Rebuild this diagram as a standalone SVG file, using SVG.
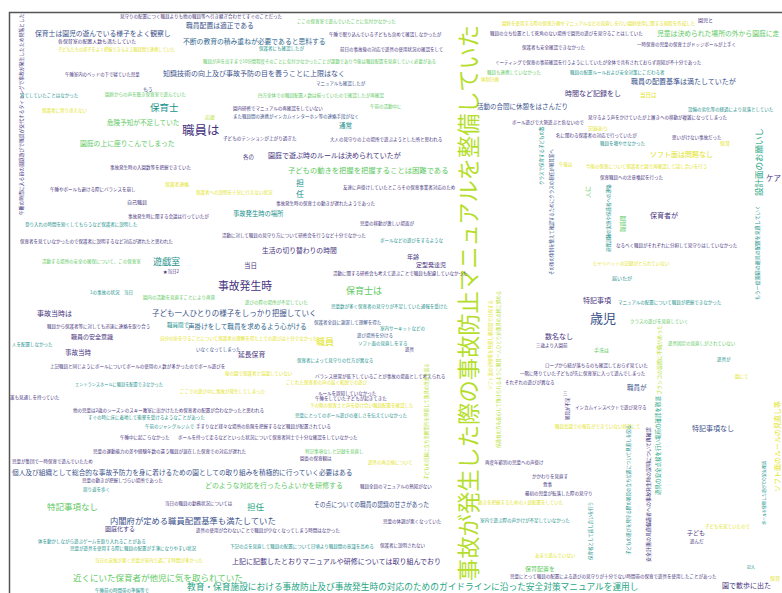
<svg xmlns="http://www.w3.org/2000/svg" width="782" height="593" viewBox="0 0 782 593">
<style>
text{font-family:"Noto Sans CJK JP","Noto Sans CJK SC",sans-serif;font-size:4.5px}
.p{fill:#46337e}.d{fill:#3b528b}.b{fill:#31688e}.t{fill:#21918c}.g{fill:#27a583}.l{fill:#5ec962}.y{fill:#b5de2b}.Y{fill:#dfe318}
</style>
<rect width="782" height="593" fill="#fff"/>
<path d="M9.5,593V12.5H782" fill="none" stroke="#555" stroke-width="1.5"/>
<g id="big">
<text class="y" style="font-size:22.3px" transform="translate(477,581) rotate(-90)">事故が発生した際の事故防止マニュアルを整備していた</text>
</g>
<g id="top">
<text class="p" x="120" y="18">見守りの配置につく職員よりも他の職員等へ引き継ぎ合わせてすぐのことだった</text>
<text class="d" x="35" y="36" style="font-size:6.8px">保育士は園児の遊んでいる様子をよく観察し</text>
<text class="d" x="186" y="28" style="font-size:6.8px">職員配置は適正である</text>
<text class="p" x="58" y="43" style="font-size:4.9px">各保育室の配置人数も満たしていた</text>
<text class="Y" x="58" y="51" style="font-size:4.2px">子どもたちの様子をよく把握できるよう職員間で連携していた</text>
<text class="b" x="183" y="44" style="font-size:6.8px">不断の教育の積み重ねが必要であると思料する</text>
<text class="l" x="297" y="23">ここの保育室で遊んでいたことに気付かなかった</text>
<text class="p" x="329" y="36">午睡で眠り込んでいる子どもも含めて確認しなかったが</text>
<text class="t" x="259" y="50">保護者にも確認したが</text>
<text class="p" x="340" y="51">前日の事故後の対応で遊具の使用状況の確認をして</text>
<text class="l" x="203" y="63" style="font-size:4.4px">職員が声を出すまで10分間程度そのことに気付かなかったことが課題であり今後は職員配置を見直していく必要がある</text>
<text class="d" x="163" y="76" style="font-size:7px">知識技術の向上及び事故予防の目を養うことに上限はなく</text>
<text class="p" x="65" y="76" style="font-size:4.4px">午睡室内のベッドの下で寝ていた児童</text>
<text class="d" x="316" y="85">マニュアルも確認したが</text>
<text class="d" x="143" y="91" style="font-size:5px">もう</text>
<text class="l" x="105" y="96">園庭からの声を聴き保育室で遊んでいた</text>
<text class="t" x="20" y="97">育てしていたことはなかった</text>
<text class="l" x="258" y="97">四方全体での職員配置人数は揃っていたので確認したが再確認</text>
<text class="Y" x="42" y="112">保護者に寄り添えない</text>
<text class="t" x="150" y="111" style="font-size:9.5px">保育士</text>
<text class="l" x="107" y="125" style="font-size:6.6px">危険予知が不足していた</text>
<text class="p" x="182" y="135" style="font-size:12.5px">職員は</text>
<text class="y" x="205" y="119" style="font-size:5px">応援</text>
<text class="p" x="233" y="110">園内研修でマニュアルの再確認をしていない</text>
<text class="d" x="233" y="118">また職員間の連携がインカムインターホン等の連絡手段がなく</text>
<text class="t" x="339" y="128" style="font-size:6.5px">通常</text>
<text class="l" x="370" y="108">午前の活動中に</text>
<text class="p" x="223" y="140" style="font-size:4.6px">子どものテンションが上がり過ぎた</text>
<text class="p" x="330" y="141">大人の見守りの上の場所で遊ぶようとした所と思われる</text>
<text class="l" x="80" y="146" style="font-size:6.8px">園庭の上に座りこんでしまった</text>
<text class="p" x="243" y="159" style="font-size:5.5px">各の</text>
<text class="p" x="268" y="158" style="font-size:7px">園庭で遊ぶ時のルールは決められていたが</text>
<text class="l" x="288" y="173" style="font-size:7.3px">子どもの動きを把握を把握することは困難である</text>
<text class="p" x="110" y="169">事故発生時の入園数等を把握できていた</text>
<text class="Y" x="165" y="186" style="font-size:4.8px">保護者連絡</text>
<text class="p" x="50" y="191">午睡やボールも避ける際にバランスを崩し</text>
<text class="t" x="296" y="186" style="font-size:8px">担</text>
<text class="t" x="296" y="197" style="font-size:8px">任</text>
<text class="p" x="343" y="189">友達に声掛けしていたところその保育事業者対応のため</text>
<text class="Y" x="196" y="194">保護者への説明を十分に行えない状況</text>
<text class="p" style="font-size:4.8px" transform="translate(23,215) rotate(-90)">午睡の時間に入る前の園庭遊びで職員が交代するタイミングで事故が発生したため見落とした</text>
<text class="Y" x="502" y="25">園庭を使用する際の保育計画やマニュアルなどの見直しを行い園庭使用に関する規程を作成した</text>
<text class="p" x="490" y="35">職員の立ち位置として死角のない場所で園児の遊びを見守ることはしていた</text>
<text class="p" x="522" y="49">保護者も安全確認できなかった</text>
<text class="p" x="495" y="64">ミーティングで保育の事前確認を行うようにしていたが全体で共有されておらず周知が不十分であった</text>
<text class="l" x="487" y="74">職員も連携していなかった</text>
<text class="Y" x="481" y="81">体制計画</text>
<text class="t" x="570" y="74">職員の配置ルールおよび安全対策にこだわる者</text>
<text class="p" x="565" y="96" style="font-size:7px">時間など記録をし</text>
<text class="d" x="477" y="109" style="font-size:6.5px">活動の合間に休憩をはさんだり</text>
<text class="p" x="512" y="124">ボール遊びで大勢遊ぶと危ないので</text>
<text class="p" x="588" y="119">見守るよう声をかけていたが上履きへの移動が複雑になってしまった</text>
<text class="d" x="631" y="84" style="font-size:7px">職員の配置基準は満たしていたが</text>
<text class="Y" x="640" y="97" style="font-size:5.5px">当日は</text>
<text class="p" x="698" y="22" style="font-size:5px">園児と</text>
<text class="l" x="657" y="36" style="font-size:6.8px">児童は決められた場所の外から園庭に走</text>
<text class="p" x="637" y="46">一時保育の児童の保育士がドッジボールが上手く</text>
<text class="t" x="688" y="111">設備の劣化等の経過により見落としていた</text>
<text class="Y" x="588" y="130" style="font-size:5px">記録あり</text>
<text class="p" x="556" y="137">名に関わる保護者の対応で行っていたが</text>
<text class="t" x="600" y="145">職員を増やせなかった</text>
<text class="p" x="672" y="139">思いがけない事故だった</text>
<text class="Y" x="720" y="145" style="font-size:5px">保育</text>
<text class="Y" x="650" y="157" style="font-size:7px">ソフト面は問題なし</text>
<text class="Y" x="586" y="168">今後の保育について保護者と園で再確認して話し合いを行う</text>
<text class="p" x="600" y="179">保育職員への注意喚起を行った</text>
<text class="Y" x="559" y="166">午後は</text>
<text class="g" style="font-size:8.5px" transform="translate(762,196) rotate(-90)">設計面のお願いし</text>
<text class="t" style="font-size:5px" transform="translate(759,300) rotate(-90)">もう一度園庭の遊具の配置を見直していく</text>
<text class="p" x="766" y="181" style="font-size:7.5px">ケア</text>
<text class="t" transform="translate(543,185) rotate(-90)">クラスで保育する子どもの数</text>
<text class="d" transform="translate(553,275) rotate(-90)">その後の体制を整えて確認するためにクラスの担任が職員室へ</text>
<text class="l" style="font-size:6px" transform="translate(590,198) rotate(-90)">人に</text>
<text class="t" transform="translate(610,252) rotate(-90)">避難訓練の実施や保護者への連絡</text>
<text class="l" style="font-size:5.5px" transform="translate(625,232) rotate(-90)">職員間</text>
</g>
<g id="middle">
<text class="p" x="127" y="204" style="font-size:5px">自己職員</text>
<text class="p" x="128" y="218">事故発生時に関する会議は行っていたが</text>
<text class="p" x="276" y="205">事故発生時の保育士の動きが遅れたようであった</text>
<text class="t" x="25" y="226">登り入れの時間を短くしてもらうなど保護者に説明した</text>
<text class="t" x="233" y="216" style="font-size:6.3px">事故発生時の場所</text>
<text class="p" x="20" y="243">保育者を見ていなかったので保護者に説明するなど対応が遅れたと思われた</text>
<text class="p" x="360" y="225">児童の移動が激しい場面が</text>
<text class="p" x="222" y="237">活動に対して職員の見守り方について研修会を行うなど十分でなかった</text>
<text class="t" x="380" y="242">ボールなどの遊びをするような</text>
<text class="p" x="262" y="253" style="font-size:6.8px">生活の切り替わりの時間</text>
<text class="l" x="42" y="263">活動する場所の安全の確保について、この保育室</text>
<text class="t" x="153" y="265" style="font-size:9px">遊戯室</text>
<text class="p" x="163" y="273">★当日2</text>
<text class="p" x="244" y="268" style="font-size:6.5px">当日</text>
<text class="p" x="333" y="275">活動に関する研修会も考えて遊ぶことで職員も配慮していなかった</text>
<text class="p" x="407" y="259" style="font-size:6px">年齢</text>
<text class="p" x="416" y="267" style="font-size:6px">定型発達児</text>
<text class="p" x="218" y="290" style="font-size:10.8px">事故発生時</text>
<text class="l" x="346" y="294" style="font-size:9px">保育士は</text>
<text class="t" x="90" y="294">1の事故の状況　当日</text>
<text class="l" x="143" y="299">園内の活動を見直すことにより再発</text>
<text class="l" x="245" y="304">遊びの際の場所が不足していた</text>
<text class="t" x="331" y="308">児童数が多く保育者の見守りが不足していた通報を受けた</text>
<text class="p" x="37" y="316" style="font-size:7px">事故当時は</text>
<text class="d" x="152" y="316" style="font-size:7.5px">子ども一人ひとりの様子をしっかり把握していく</text>
<text class="p" x="47" y="328">職員から保護者等に対しても迅速に連絡を取り合う</text>
<text class="t" x="167" y="327" style="font-size:5.5px">職員間で</text>
<text class="b" x="188" y="329" style="font-size:6.6px">声掛けをして職員を求めるよう心がける</text>
<text class="d" x="314" y="324">保護者全員に謝罪して理解を得た</text>
<text class="p" x="71" y="339" style="font-size:6px">職員の安全意識</text>
<text class="t" x="12" y="346">人を配置しなかった</text>
<text class="p" x="65" y="355" style="font-size:6.5px">事故当時</text>
<text class="Y" x="160" y="340">自分の命を守ることについて保護者の理解を得た上での遊びは十分でなかった</text>
<text class="Y" x="316" y="345" style="font-size:9px">職員</text>
<text class="d" x="357" y="337">遊び場所を分ける</text>
<text class="t" x="380" y="330">室内サーキットなどの</text>
<text class="t" x="358" y="345">ソフト面の見直しをする</text>
<text class="p" x="405" y="351">遊具</text>
<text class="d" x="196" y="351">いなくなってしまった</text>
<text class="p" x="238" y="357" style="font-size:6.8px">延長保育</text>
<text class="p" x="50" y="368">上記職員と同じようにボールについてボールの使用の人数が多かったのでボール遊びを</text>
<text class="t" x="297" y="362">保育者によって見守りの仕方が異なる</text>
<text class="t" x="75" y="386" style="font-size:4.2px">エントランスホールに職員を配置できなかった</text>
<text class="Y" x="225" y="375">後の園で保護者と協議していない</text>
<text class="p" x="315" y="378">バランス感覚が低下していることが事故の場面として考えられる</text>
<text class="Y" x="286" y="384">こじれた保育者の声の届く範囲での遊び</text>
<text class="Y" x="180" y="393">ここでの遊び中に事故が発生してしまった</text>
<text class="p" x="318" y="395">ルールを周知していなかった</text>
<text class="Y" transform="translate(492,390) rotate(-90)">ソフト面の研修等を見直し職員間で共有する</text>
<text class="y" transform="translate(500,448) rotate(-90)">保護者の方も安心して預けられるように職員一人ひとりが遊具の点検に努める</text>
<text class="p" x="545" y="339" style="font-size:7px">数名なし</text>
<text class="p" x="536" y="347">三歳より入園前</text>
<text class="p" x="545" y="367">ロープから紐が落ちるのも確認しておらず見ていた</text>
<text class="p" x="520" y="375">一階に降りていた子どもが先に保育室に入って遊んでしまった</text>
<text class="p" x="505" y="384">それぞれの遊びが異なる</text>
<text class="p" x="563" y="395">三</text>
<text class="p" x="650" y="218" style="font-size:7px">保育者が</text>
<text class="p" x="616" y="247">なるべく職員がそれぞれに分担して見守りはしていなかった</text>
<text class="Y" x="593" y="265">ヒヤリハットの記録がとられていない</text>
<text class="t" x="612" y="280" style="font-size:5px">届いたが</text>
<text class="p" x="583" y="303" style="font-size:7px">特記事項</text>
<text class="t" x="618" y="304">マニュアルの配置について職員が把握できなかった</text>
<text class="d" x="590" y="323" style="font-size:13px">歳児</text>
<text class="l" x="630" y="323">クラスの遊びを見直していく</text>
<text class="y" style="font-size:5px" transform="translate(661,395) rotate(-90)">ブランコの設置に不備があった</text>
<text class="l" x="668" y="345">遊具固定の見直しがされていない</text>
<text class="l" x="594" y="352" style="font-size:5px">手洗は</text>
<text class="t" x="717" y="361">遊具が</text>
<text class="d" x="627" y="390" style="font-size:6.5px">職員が</text>
<text class="Y" x="735" y="378">園にて</text>
</g>
<g id="bottom">
<text class="p" x="10" y="399">誰も見通しを持っていた</text>
<text class="p" x="73" y="412">他の児童は2歳のシーズンのスキー教室に出かけたため保育者の配置が合わなかったと思われる</text>
<text class="t" x="88" y="419">すぐの時に床に着地して衝撃を受けるようなことがあった</text>
<text class="t" x="145" y="428">午前のジャングルジムで</text>
<text class="p" x="196" y="428">手すりなど様々な場所の危険を把握するなど職員が配置されている</text>
<text class="p" x="120" y="439">午睡中に起こらなかった</text>
<text class="p" x="178" y="439">ボールを持って走るなどといった状況について保育者同士で十分な確認をしていなかった</text>
<text class="p" x="93" y="453">児童の運動能力の差や経験年数の違う職員が混在した保育での対応が遅れた</text>
<text class="p" x="12" y="463">児童が集団で一時保育で遊んでいたため</text>
<text class="d" x="12" y="475" style="font-size:6.7px">個人及び組織として総合的な事故予防力を身に着けるための園としての取り組みを積極的に行っていく必要はある</text>
<text class="p" x="82" y="482">児童の動きが把握しづらい場所であった</text>
<text class="t" x="83" y="491">周り道を歩く</text>
<text class="l" x="47" y="510" style="font-size:8.5px">特記事項なし</text>
<text class="p" x="165" y="505">当日の職員の勤務状況については</text>
<text class="d" x="110" y="523.5" style="font-size:8.3px">内閣府が定める職員配置基準も満たしていた</text>
<text class="p" x="105" y="531" style="font-size:6px">園庭化する</text>
<text class="t" x="38" y="543">体を動かしながら遊ぶゲームを取り入れることがある</text>
<text class="t" x="70" y="550">児童が遊具を使用する際に職員の配置が手薄になりやすい状況</text>
<text class="Y" x="95" y="562">当日の天候が悪く児童が室内で過ごす時間が多かった</text>
<text class="l" x="73" y="581" style="font-size:8.5px">近くにいた保育者が他児に気を取られていた</text>
<text class="t" x="95" y="592">午睡前の時間帯の準備等で</text>
<text class="g" x="187" y="590" style="font-size:8.7px">教育・保育施設における事故防止及び事故発生時の対応のためのガイドラインに沿った安全対策マニュアルを運用し</text>
<text class="p" x="315" y="400">午睡をしていた子どもが起きてきた</text>
<text class="Y" x="310" y="407">下の階の保育士と声を掛け合い職員配置を確認した</text>
<text class="t" x="295" y="417">児童にとってのボール遊びの楽しさを伝えていなかった</text>
<text class="l" x="305" y="453">特記事項なしと記録を見直し</text>
<text class="p" x="300" y="460">園長の保育観は</text>
<text class="l" x="205" y="488" style="font-size:6.9px">どのような対応を行ったらよいかを研修する</text>
<text class="g" x="247" y="510" style="font-size:8.5px">担任</text>
<text class="d" x="314" y="507" style="font-size:6.5px" textLength="115" lengthAdjust="spacingAndGlyphs">その点についての職員の認識の甘さがあった</text>
<text class="p" x="196" y="532">遊具の使用が合わないことで職員が少なくなってしまう時間はなかった</text>
<text class="p" x="383" y="523">児童の体調が悪くなっていた</text>
<text class="t" x="230" y="548">下記の点を見直して職員の配置について日頃より職員間の意識を高める</text>
<text class="p" x="380" y="547">保護者に説明されない</text>
<text class="p" x="232" y="564" style="font-size:7px">上記に記載したとおりマニュアルや研修については取り組んでおり</text>
<text class="y" transform="translate(428,480) rotate(-90)">子どもの目線に立ち危険箇所を見直して遊具の改善を図る</text>
<text class="Y" x="368" y="464">遊具の再点検について</text>
<text class="p" x="360" y="488">職員全員のマニュアルの熟知がない</text>
<text class="p" x="485" y="464">再度年齢別の児童への声掛け</text>
<text class="p" x="532" y="478">かかわりを見直す</text>
<text class="p" x="543" y="486">食事</text>
<text class="p" x="525" y="495">最初の児童が転落した際の見守り</text>
<text class="Y" x="478" y="504">動きを把握するための人員配置をしていた</text>
<text class="t" x="480" y="522">室内で遊ぶ際の声かけが不足していなかった</text>
<text class="Y" x="535" y="557">あまり遊んでいない</text>
<text class="l" x="525" y="571" style="font-size:6px">保育配置を</text>
<text class="p" x="510" y="578">児童にとって職員の配置による遊びの見守りが十分でない時間帯の保育で遊具を使用したことがあった</text>
<text class="p" transform="translate(569,420) rotate(-90)">職員が不足</text>
<text class="p" x="575" y="409">インカムインスペクトで遊び見守る</text>
<text class="Y" x="555" y="428">職員会議での報告ができていない状況にて</text>
<text class="t" transform="translate(592,560) rotate(-90)">保育者として話し合いを行う</text>
<text class="d" x="692" y="431" style="font-size:7px">特記事項なし</text>
<text class="g" style="font-size:5.5px" transform="translate(660,495) rotate(-90)">遊具の安全点検を行い場所の確認を徹底</text>
<text class="p" style="font-size:5px" transform="translate(650,527) rotate(-90)">保護者への事故発生時の説明について再確認</text>
<text class="p" style="font-size:5px" transform="translate(650,562) rotate(-90)">安全計画の見直し</text>
<text class="t" transform="translate(630,555) rotate(-90)">子どもの遊びを見守る際の職員の立ち位置について見直しを図る</text>
<text class="p" x="687" y="535" style="font-size:6px">子ども</text>
<text class="p" x="690" y="543">遊んだ</text>
<text class="t" style="font-size:4px" transform="translate(766,525) rotate(-90)">ボールを使用した遊びでの安全確認</text>
<text class="Y" style="font-size:7px" transform="translate(780,492) rotate(-90)">ソフト面のルールの見直し等</text>
<text class="Y" x="705" y="528">子どもを見ていたので</text>
<text class="t" x="747" y="569" style="font-size:4px">記入</text>
<text class="p" x="722" y="588" style="font-size:7px">園で散歩に出た</text>
<text class="Y" x="770" y="580" style="font-size:5px">保育</text>
</g>
</svg>
